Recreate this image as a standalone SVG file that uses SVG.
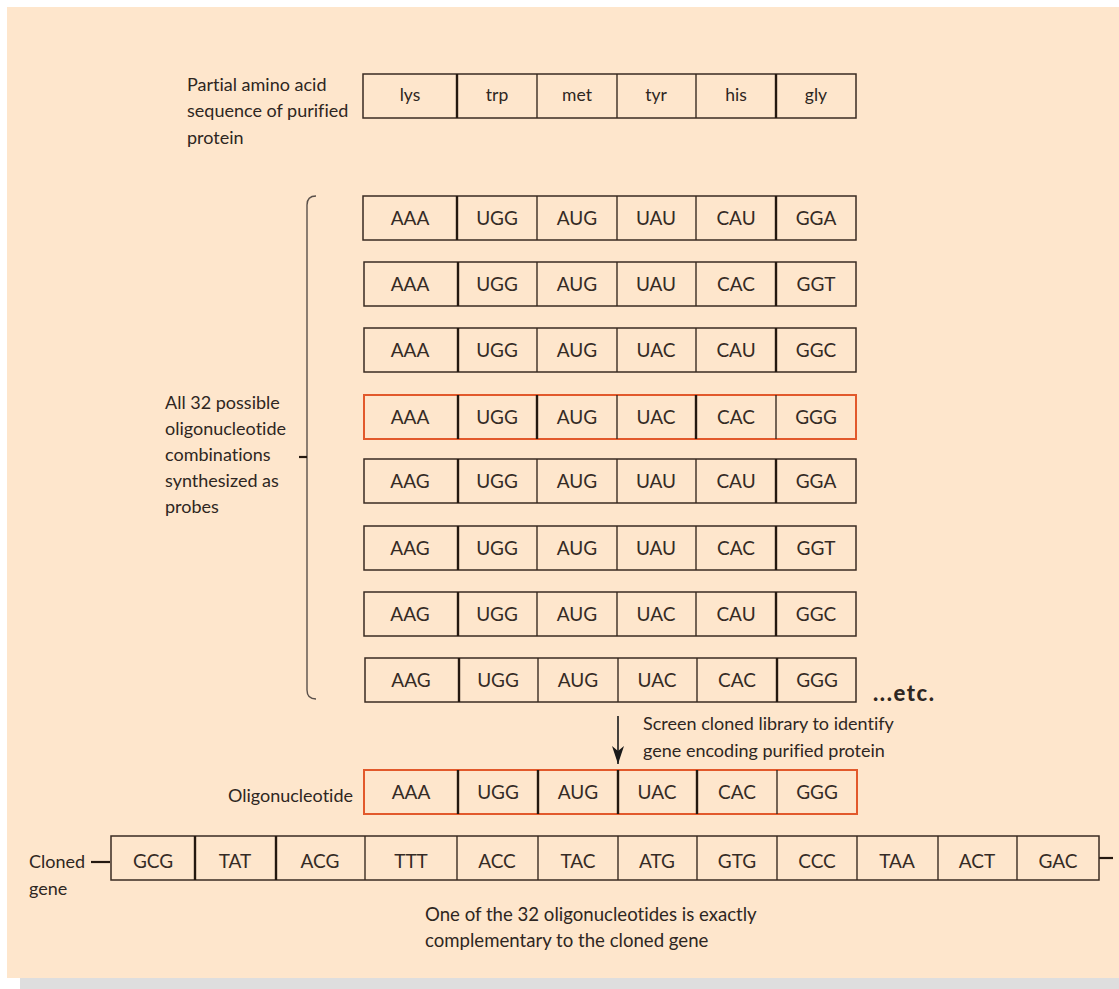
<svg xmlns="http://www.w3.org/2000/svg" width="1119" height="989" viewBox="0 0 1119 989">
  <style>
    text { font-variant-ligatures: none; }
    .lbl { font-family: Lato, "Liberation Sans", sans-serif; font-size: 18px; fill: #2e2622; }
    .note { font-family: Lato, "Liberation Sans", sans-serif; font-size: 18.6px; fill: #2e2622; }
    .cod { font-family: Lato, "Liberation Sans", sans-serif; font-size: 19px; fill: #352b25; text-anchor: middle; }
    .aa { font-family: Lato, "Liberation Sans", sans-serif; font-size: 17.5px; fill: #2e2622; text-anchor: middle; }
    .box { fill: none; stroke: #3a2b22; stroke-width: 1.5; }
    .hot { fill: none; stroke: #e2592b; stroke-width: 2; }
    .div { stroke: #3a2b22; stroke-width: 1.4; }
    .divk { stroke: #24180f; stroke-width: 2.4; }
    .tick { stroke: #24180f; stroke-width: 2.2; }
    .brace { fill: none; stroke: #5a504a; stroke-width: 1.4; }
  </style>
  <defs>
    <marker id="head" viewBox="0 0 18 12" refX="18" refY="6" markerWidth="18" markerHeight="12" markerUnits="userSpaceOnUse" orient="auto">
      <path d="M0,0 L18,6 L0,12 L5,6 Z" fill="#1a1a1a"/>
    </marker>
  </defs>

  <!-- panel and its shadow -->
  <rect x="20" y="978" width="1099" height="11" fill="#dedede"/>
  <rect x="7" y="7" width="1112" height="971" fill="#fee6cc"/>

  <!-- amino acid sequence -->
  <g id="protein">
    <text class="lbl" x="187" y="91">Partial amino acid</text>
    <text class="lbl" x="187" y="117">sequence of purified</text>
    <text class="lbl" x="187" y="144">protein</text>
    <rect class="box" x="363" y="74" width="493" height="44"/>
    <line class="divk" x1="457" y1="74" x2="457" y2="118"/>
    <line class="div" x1="537" y1="74" x2="537" y2="118"/>
    <line class="div" x1="617" y1="74" x2="617" y2="118"/>
    <line class="div" x1="696" y1="74" x2="696" y2="118"/>
    <line class="divk" x1="776" y1="74" x2="776" y2="118"/>
    <text class="aa" x="410" y="101">lys</text>
    <text class="aa" x="497" y="101">trp</text>
    <text class="aa" x="577" y="101">met</text>
    <text class="aa" x="656" y="101">tyr</text>
    <text class="aa" x="736" y="101">his</text>
    <text class="aa" x="816" y="101">gly</text>
  </g>

  <!-- bracketed set of probes -->
  <g id="probe-label">
    <text class="lbl" x="165" y="409">All 32 possible</text>
    <text class="lbl" x="165" y="435">oligonucleotide</text>
    <text class="lbl" x="165" y="461">combinations</text>
    <text class="lbl" x="165" y="487">synthesized as</text>
    <text class="lbl" x="165" y="513">probes</text>
  </g>

  <g id="connectors">
    <path class="brace" d="M316,196 Q307,196 307,205 L307,690 Q307,699 316,699"/>
    <line class="tick" x1="299" y1="457" x2="307" y2="457"/>
    <line x1="618" y1="716" x2="618" y2="764" stroke="#1a1a1a" stroke-width="1.6" marker-end="url(#head)"/>
    <line class="tick" x1="91" y1="862" x2="110" y2="862"/>
    <line class="tick" x1="1099" y1="858" x2="1113" y2="858"/>
  </g>

  <g id="probe-1">
    <rect class="box" x="363" y="196" width="493" height="44"/>
    <line class="divk" x1="457" y1="196" x2="457" y2="240"/>
    <line class="div" x1="537" y1="196" x2="537" y2="240"/>
    <line class="div" x1="617" y1="196" x2="617" y2="240"/>
    <line class="div" x1="696" y1="196" x2="696" y2="240"/>
    <line class="divk" x1="776" y1="196" x2="776" y2="240"/>
    <text class="cod" x="410" y="225">AAA</text><text class="cod" x="497" y="225">UGG</text><text class="cod" x="577" y="225">AUG</text><text class="cod" x="656" y="225">UAU</text><text class="cod" x="736" y="225">CAU</text><text class="cod" x="816" y="225">GGA</text>
  </g>
  <g id="probe-2">
    <rect class="box" x="364" y="262" width="492" height="44"/>
    <line class="divk" x1="458" y1="262" x2="458" y2="306"/>
    <line class="div" x1="537" y1="262" x2="537" y2="306"/>
    <line class="div" x1="617" y1="262" x2="617" y2="306"/>
    <line class="div" x1="696" y1="262" x2="696" y2="306"/>
    <line class="divk" x1="776" y1="262" x2="776" y2="306"/>
    <text class="cod" x="410" y="291">AAA</text><text class="cod" x="497" y="291">UGG</text><text class="cod" x="577" y="291">AUG</text><text class="cod" x="656" y="291">UAU</text><text class="cod" x="736" y="291">CAC</text><text class="cod" x="816" y="291">GGT</text>
  </g>
  <g id="probe-3">
    <rect class="box" x="364" y="328" width="492" height="44"/>
    <line class="divk" x1="458" y1="328" x2="458" y2="372"/>
    <line class="div" x1="537" y1="328" x2="537" y2="372"/>
    <line class="div" x1="617" y1="328" x2="617" y2="372"/>
    <line class="div" x1="696" y1="328" x2="696" y2="372"/>
    <line class="divk" x1="776" y1="328" x2="776" y2="372"/>
    <text class="cod" x="410" y="357">AAA</text><text class="cod" x="497" y="357">UGG</text><text class="cod" x="577" y="357">AUG</text><text class="cod" x="656" y="357">UAC</text><text class="cod" x="736" y="357">CAU</text><text class="cod" x="816" y="357">GGC</text>
  </g>
  <g id="probe-4">
    <rect class="hot" x="364" y="395" width="492" height="44"/>
    <line class="divk" x1="458" y1="395" x2="458" y2="439"/>
    <line class="divk" x1="537" y1="395" x2="537" y2="439"/>
    <line class="div" x1="617" y1="395" x2="617" y2="439"/>
    <line class="divk" x1="696" y1="395" x2="696" y2="439"/>
    <line class="div" x1="776" y1="395" x2="776" y2="439"/>
    <text class="cod" x="410" y="424">AAA</text><text class="cod" x="497" y="424">UGG</text><text class="cod" x="577" y="424">AUG</text><text class="cod" x="656" y="424">UAC</text><text class="cod" x="736" y="424">CAC</text><text class="cod" x="816" y="424">GGG</text>
  </g>
  <g id="probe-5">
    <rect class="box" x="364" y="459" width="492" height="44"/>
    <line class="divk" x1="458" y1="459" x2="458" y2="503"/>
    <line class="div" x1="537" y1="459" x2="537" y2="503"/>
    <line class="div" x1="617" y1="459" x2="617" y2="503"/>
    <line class="div" x1="696" y1="459" x2="696" y2="503"/>
    <line class="divk" x1="776" y1="459" x2="776" y2="503"/>
    <text class="cod" x="410" y="488">AAG</text><text class="cod" x="497" y="488">UGG</text><text class="cod" x="577" y="488">AUG</text><text class="cod" x="656" y="488">UAU</text><text class="cod" x="736" y="488">CAU</text><text class="cod" x="816" y="488">GGA</text>
  </g>
  <g id="probe-6">
    <rect class="box" x="364" y="526" width="492" height="44"/>
    <line class="divk" x1="458" y1="526" x2="458" y2="570"/>
    <line class="div" x1="537" y1="526" x2="537" y2="570"/>
    <line class="div" x1="617" y1="526" x2="617" y2="570"/>
    <line class="div" x1="696" y1="526" x2="696" y2="570"/>
    <line class="divk" x1="776" y1="526" x2="776" y2="570"/>
    <text class="cod" x="410" y="555">AAG</text><text class="cod" x="497" y="555">UGG</text><text class="cod" x="577" y="555">AUG</text><text class="cod" x="656" y="555">UAU</text><text class="cod" x="736" y="555">CAC</text><text class="cod" x="816" y="555">GGT</text>
  </g>
  <g id="probe-7">
    <rect class="box" x="364" y="592" width="492" height="44"/>
    <line class="divk" x1="458" y1="592" x2="458" y2="636"/>
    <line class="div" x1="537" y1="592" x2="537" y2="636"/>
    <line class="div" x1="617" y1="592" x2="617" y2="636"/>
    <line class="div" x1="696" y1="592" x2="696" y2="636"/>
    <line class="divk" x1="776" y1="592" x2="776" y2="636"/>
    <text class="cod" x="410" y="621">AAG</text><text class="cod" x="497" y="621">UGG</text><text class="cod" x="577" y="621">AUG</text><text class="cod" x="656" y="621">UAC</text><text class="cod" x="736" y="621">CAU</text><text class="cod" x="816" y="621">GGC</text>
  </g>
  <g id="probe-8">
    <rect class="box" x="365" y="658" width="491" height="44"/>
    <line class="divk" x1="459" y1="658" x2="459" y2="702"/>
    <line class="div" x1="538" y1="658" x2="538" y2="702"/>
    <line class="div" x1="618" y1="658" x2="618" y2="702"/>
    <line class="div" x1="697" y1="658" x2="697" y2="702"/>
    <line class="divk" x1="777" y1="658" x2="777" y2="702"/>
    <text class="cod" x="411" y="687">AAG</text><text class="cod" x="498" y="687">UGG</text><text class="cod" x="578" y="687">AUG</text><text class="cod" x="657" y="687">UAC</text><text class="cod" x="737" y="687">CAC</text><text class="cod" x="817" y="687">GGG</text>
  </g>

  <g id="etc">
    <text x="873" y="701" font-family="Lato, 'Liberation Sans', sans-serif" font-size="22" font-weight="900" letter-spacing="1.6" fill="#2e2622">...etc.</text>
  </g>

  <g id="screen-note">
    <text class="lbl" x="643" y="730">Screen cloned library to identify</text>
    <text class="lbl" x="643" y="757">gene encoding purified protein</text>
  </g>

  <g id="oligonucleotide">
    <text class="lbl" x="353" y="802" text-anchor="end">Oligonucleotide</text>
    <rect class="hot" x="364" y="770" width="493" height="44"/>
    <line class="divk" x1="458" y1="770" x2="458" y2="814"/>
    <line class="divk" x1="538" y1="770" x2="538" y2="814"/>
    <line class="divk" x1="618" y1="770" x2="618" y2="814"/>
    <line class="divk" x1="697" y1="770" x2="697" y2="814"/>
    <line class="div" x1="777" y1="770" x2="777" y2="814"/>
    <text class="cod" x="411" y="799">AAA</text><text class="cod" x="498" y="799">UGG</text><text class="cod" x="578" y="799">AUG</text><text class="cod" x="657" y="799">UAC</text><text class="cod" x="737" y="799">CAC</text><text class="cod" x="817" y="799">GGG</text>
  </g>

  <g id="cloned-gene">
    <text class="lbl" x="29" y="868">Cloned</text>
    <text class="lbl" x="29" y="895">gene</text>
    <rect class="box" x="111" y="836" width="988" height="44"/>
    <line class="divk" x1="195" y1="836" x2="195" y2="880"/>
    <line class="divk" x1="276" y1="836" x2="276" y2="880"/>
    <line class="div" x1="365" y1="836" x2="365" y2="880"/>
    <line class="div" x1="457" y1="836" x2="457" y2="880"/>
    <line class="div" x1="538" y1="836" x2="538" y2="880"/>
    <line class="div" x1="618" y1="836" x2="618" y2="880"/>
    <line class="div" x1="697" y1="836" x2="697" y2="880"/>
    <line class="div" x1="777" y1="836" x2="777" y2="880"/>
    <line class="div" x1="857" y1="836" x2="857" y2="880"/>
    <line class="div" x1="938" y1="836" x2="938" y2="880"/>
    <line class="div" x1="1017" y1="836" x2="1017" y2="880"/>
    <text class="cod" x="153" y="868">GCG</text>
    <text class="cod" x="235" y="868">TAT</text>
    <text class="cod" x="320" y="868">ACG</text>
    <text class="cod" x="411" y="868">TTT</text>
    <text class="cod" x="497" y="868">ACC</text>
    <text class="cod" x="578" y="868">TAC</text>
    <text class="cod" x="657" y="868">ATG</text>
    <text class="cod" x="737" y="868">GTG</text>
    <text class="cod" x="817" y="868">CCC</text>
    <text class="cod" x="897" y="868">TAA</text>
    <text class="cod" x="977" y="868">ACT</text>
    <text class="cod" x="1058" y="868">GAC</text>
  </g>

  <g id="complement-note">
    <text class="note" x="425" y="921">One of the 32 oligonucleotides is exactly</text>
    <text class="note" x="425" y="947">complementary to the cloned gene</text>
  </g>
</svg>
